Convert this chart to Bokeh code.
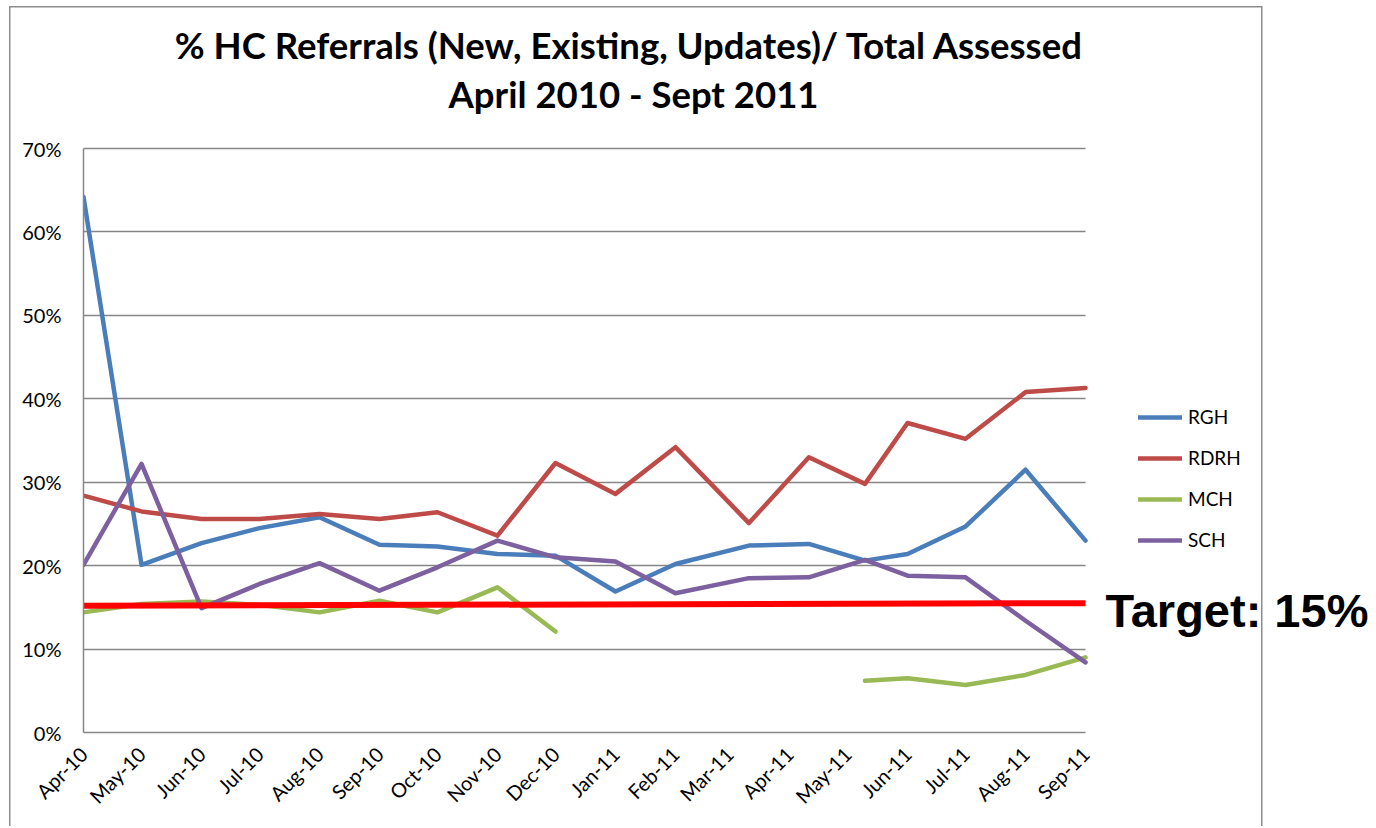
import math
import pandas as pd
from bokeh.plotting import figure
from bokeh.models import (Range1d, FixedTicker, DatetimeTickFormatter, PrintfTickFormatter,
                          Legend, LegendItem, Label, ColumnDataSource)
from bokeh.embed import file_html
from bokeh.resources import INLINE

# ---------------- data ----------------
# dates of the data points (date axis; Mar-May 2011 points were recorded ~10th of month)
point_dates = ["2010-04-01", "2010-05-01", "2010-06-01", "2010-07-01", "2010-08-01",
               "2010-09-01", "2010-10-01", "2010-11-01", "2010-12-01", "2011-01-01",
               "2011-02-01", "2011-03-11", "2011-04-11", "2011-05-10", "2011-06-01",
               "2011-07-01", "2011-08-01", "2011-09-01"]
rgh = [64.2, 20.1, 22.7, 24.5, 25.8, 22.5, 22.3, 21.4, 21.2, 16.9, 20.2, 22.4,
       22.6, 20.6, 21.4, 24.7, 31.5, 23.0]
rdrh = [28.4, 26.5, 25.6, 25.6, 26.2, 25.6, 26.4, 23.6, 32.3, 28.6, 34.2, 25.1,
        33.0, 29.8, 37.1, 35.2, 40.8, 41.3]
mch = [14.4, 15.4, 15.7, 15.3, 14.4, 15.8, 14.4, 17.4, 12.1, None, None, None,
       None, 6.2, 6.5, 5.7, 6.9, 9.0]
sch = [20.1, 32.2, 14.9, 17.8, 20.3, 17.0, 19.8, 23.0, 21.0, 20.5, 16.7, 18.5,
       18.6, 20.7, 18.8, 18.6, 13.4, 8.4]
series_names = ["RGH", "RDRH", "MCH", "SCH"]
series_colors = ["#4A7EBB", "#BE4B48", "#98B954", "#7D60A0"]

tick_months = ["2010-04-01", "2010-05-01", "2010-06-01", "2010-07-01", "2010-08-01",
               "2010-09-01", "2010-10-01", "2010-11-01", "2010-12-01", "2011-01-01",
               "2011-02-01", "2011-03-01", "2011-04-01", "2011-05-01", "2011-06-01",
               "2011-07-01", "2011-08-01", "2011-09-01"]
y_ticks = [0, 10, 20, 30, 40, 50, 60, 70]

target_dates = ["2010-04-01", "2011-09-01"]
target_values = [15.2, 15.5]
target_text = "Target: 15%"

title_line1 = "% HC Referrals (New, Existing, Updates)/ Total Assessed"
title_line2 = "April 2010 - Sept 2011"

# ---------------- layout (pixels) ----------------
W, H = 1372, 826
FRAME_L = 83          # y axis position
AXIS_R = 1085         # x position of last month (end of x axis)
Y_TOP = 148           # pixel row of the 70% line
Y_BOT = 732           # pixel row of the 0% line (frame bottom)
TXT_SHIFT = 17        # label baseline correction

def ms(d):
    return pd.Timestamp(d).value / 1e6

dates = pd.to_datetime(point_dates)
ticks_ms = [ms(d) for d in tick_months]
x0, x1 = ticks_ms[0], ticks_ms[-1]
x_end = x0 + (x1 - x0) * (W - FRAME_L) / (AXIS_R - FRAME_L)
y_end = y_ticks[-1] * Y_BOT / (Y_BOT - Y_TOP)

p = figure(width=W, height=H, x_axis_type="datetime", output_backend="svg",
           toolbar_location=None, tools="",
           x_range=Range1d(x0, x_end), y_range=Range1d(0, y_end),
           min_border=0, min_border_left=FRAME_L, min_border_right=0,
           min_border_top=0, min_border_bottom=H - Y_BOT)
p.outline_line_color = None
p.background_fill_alpha = 0
p.border_fill_alpha = 0
# outer chart border (as in the source chart object)
p.styles = {
    "background-color": "white",
    "background-image": "linear-gradient(#8c8c8c,#8c8c8c), linear-gradient(#8c8c8c,#8c8c8c), linear-gradient(#8c8c8c,#8c8c8c)",
    "background-size": "1.5px 100%, 1.5px 100%, 1253px 1.5px",
    "background-position": "9px 6px, 1261px 6px, 9px 6px",
    "background-repeat": "no-repeat",
}

FONT = "Lato"

# axes
p.yaxis.ticker = FixedTicker(ticks=y_ticks)
p.yaxis.formatter = PrintfTickFormatter(format="%d%%")
p.yaxis.bounds = (y_ticks[0], y_ticks[-1])
p.xaxis.ticker = FixedTicker(ticks=ticks_ms)
p.xaxis.bounds = (x0, x1)
fmt = "%b-%y"
p.xaxis.formatter = DatetimeTickFormatter(
    milliseconds=fmt, seconds=fmt, minsec=fmt, minutes=fmt, hourmin=fmt, hours=fmt,
    days=fmt, months=fmt, years=fmt, context=None)
p.xaxis.major_label_orientation = math.pi / 4
for ax in (p.xaxis[0], p.yaxis[0]):
    ax.axis_line_color = "#868686"
    ax.axis_line_width = 1.5
    ax.major_tick_line_color = None
    ax.minor_tick_line_color = None
    ax.major_tick_out = 0
    ax.major_tick_in = 0
    ax.minor_tick_out = 0
    ax.major_label_text_font = FONT
    ax.major_label_text_font_size = "20px"
    ax.major_label_text_color = "black"
p.yaxis.major_label_standoff = 22
p.xaxis.major_label_standoff = 18

p.xgrid.grid_line_color = None
p.ygrid.grid_line_color = "#868686"
p.ygrid.grid_line_width = 1.5
p.ygrid.ticker = FixedTicker(ticks=y_ticks)
if "cross_bounds" in p.ygrid[0].properties():
    p.ygrid.cross_bounds = (x0, x1)

# series
renderers = []
for name, vals, col in zip(series_names, [rgh, rdrh, mch, sch], series_colors):
    src = ColumnDataSource(dict(x=dates, y=[float("nan") if v is None else v for v in vals]))
    r = p.line("x", "y", source=src, line_color=col, line_width=4.5,
               line_join="round", line_cap="round")
    renderers.append(r)

# target line
p.line(pd.to_datetime(target_dates), target_values, line_color="#FF0000", line_width=6)

# legend
legend = Legend(items=[LegendItem(label=n, renderers=[r]) for n, r in zip(series_names, renderers)],
                location=(1138 - FRAME_L, Y_BOT - 551), orientation="vertical",
                glyph_width=44, glyph_height=20, label_height=20, spacing=18,
                padding=0, margin=0, label_standoff=6,
                border_line_alpha=0, background_fill_alpha=0,
                label_text_font=FONT, label_text_font_size="19px", label_text_color="black")
p.add_layout(legend)

# titles
p.add_layout(Label(x=629 - FRAME_L, y=Y_BOT - 61 + TXT_SHIFT, x_units="screen", y_units="screen",
                   text=title_line1, text_align="center", text_baseline="alphabetic",
                   text_font=FONT, text_font_style="bold", text_font_size="36.5px",
                   text_color="black"))
p.add_layout(Label(x=633 - FRAME_L, y=Y_BOT - 110 + TXT_SHIFT, x_units="screen", y_units="screen",
                   text=title_line2, text_align="center", text_baseline="alphabetic",
                   text_font=FONT, text_font_style="bold", text_font_size="36.5px",
                   text_color="black"))

# target label
p.add_layout(Label(x=1105 - FRAME_L, y=Y_BOT - 627 + TXT_SHIFT, x_units="screen", y_units="screen",
                   text=target_text, text_align="left", text_baseline="alphabetic",
                   text_font="Liberation Sans", text_font_style="bold", text_font_size="47px",
                   text_color="black"))

open("out.html", "w").write(file_html(p, INLINE))
